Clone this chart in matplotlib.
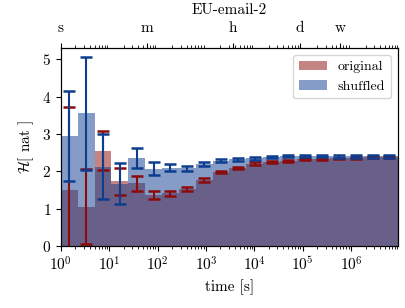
import numpy as np
import matplotlib
matplotlib.use("Agg")
import matplotlib.pyplot as plt

plt.rcParams['font.family'] = 'serif'
plt.rcParams['font.serif'] = ['cmr10']
plt.rcParams['mathtext.fontset'] = 'cm'
plt.rcParams['axes.formatter.use_mathtext'] = True
plt.rcParams['font.size'] = 11

# 20 log bins from 1 s up to the longest interval (~9.3e6 s)
bin_edges = np.logspace(0, 6.97, 21)

orig_mean = [1.50, 1.05, 2.55, 1.73, 1.68, 1.37, 1.41, 1.53, 1.77, 1.98,
             2.10, 2.21, 2.25, 2.28, 2.32, 2.335, 2.35, 2.36, 2.38, 2.39]
orig_err = [2.22, 1.00, 0.52, 0.37, 0.20, 0.10, 0.06, 0.054, 0.045, 0.035,
            0.03, 0.03, 0.03, 0.03, 0.025, 0.025, 0.02, 0.02, 0.02, 0.02]
shuf_mean = [2.95, 3.55, 2.13, 1.67, 2.355, 2.07, 2.10, 2.08, 2.19, 2.29,
             2.33, 2.35, 2.38, 2.41, 2.415, 2.41, 2.40, 2.40, 2.40, 2.40]
shuf_err = [1.20, 1.52, 0.87, 0.55, 0.275, 0.17, 0.10, 0.076, 0.054, 0.045,
            0.04, 0.035, 0.035, 0.035, 0.035, 0.03, 0.03, 0.03, 0.03, 0.03]

top_ticks = [1, 60, 3600, 86400, 604800]
top_labels = ['s', 'm', 'h', 'd', 'w']

RED = '#8b0a0a'
BLUE = '#0d3d8f'

fig = plt.figure(figsize=(4.06, 3.08), dpi=100)
ax = fig.add_axes([0.150, 0.201, 0.830, 0.643])

widths = np.diff(bin_edges)
centers = np.sqrt(bin_edges[:-1] * bin_edges[1:])

ax.bar(bin_edges[:-1], orig_mean, width=widths, align='edge', color=RED,
       alpha=0.5, label='original', linewidth=0)
ax.bar(bin_edges[:-1], shuf_mean, width=widths, align='edge', color=BLUE,
       alpha=0.5, label='shuffled', linewidth=0)
ax.errorbar(centers, orig_mean, yerr=orig_err, fmt='none', ecolor=RED,
            capsize=4.5, elinewidth=1.5, capthick=1.8)
ax.errorbar(centers, shuf_mean, yerr=shuf_err, fmt='none', ecolor=BLUE,
            capsize=4.5, elinewidth=1.5, capthick=1.8)

ax.set_xscale('log')
ax.set_xlim(bin_edges[0], bin_edges[-1])
ax.set_ylim(0, 5.3)
ax.set_xlabel('time [s]')
ax.set_ylabel(r'$\mathcal{H}$[ nat ]')
ax.legend(loc='upper right', fontsize=10)

ax2 = ax.twiny()
ax2.set_xscale('log')
ax2.set_xlim(ax.get_xlim())
ax2.set_xticks(top_ticks)
ax2.set_xticklabels(top_labels)
ax2.tick_params(axis='x', which='major', pad=6)
ax2.set_title('EU-email-2', fontsize=11, pad=5)

fig.savefig('out.png', dpi=100)
